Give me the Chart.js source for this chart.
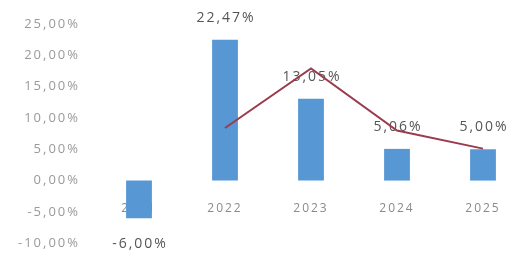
<!DOCTYPE html>
<html>
<head>
<meta charset="utf-8">
<script src="https://cdn.jsdelivr.net/npm/chart.js@4"></script>
<style>
  html, body { margin: 0; padding: 0; background: #fff; overflow: hidden; }
  #wrap { width: 540px; height: 267px; }
</style>
</head>
<body>
<div id="wrap"><canvas id="chart"></canvas></div>
<script>
// 数据
const years = ['2021', '2022', '2023', '2024', '2025'];
const barValues = [-6.00, 22.47, 13.05, 5.06, 5.00];
const lineValues = [null, 8.4, 17.9, 8.0, 5.1];

// 百分比格式（逗号小数）
function fmtPct(v) {
    return v.toFixed(2).replace('.', ',') + '%';
}

// 数值标签 + 字间距
const valueLabels = {
    id: 'valueLabels',
    beforeDraw(chart) {
        chart.ctx.letterSpacing = '2px';
    },
    beforeDatasetsDraw(chart) {
        const ctx = chart.ctx;
        const meta = chart.getDatasetMeta(1);
        ctx.save();
        ctx.font = '14px "Open Sans"';
        ctx.fillStyle = '#555';
        ctx.textAlign = 'center';
        ctx.textBaseline = 'middle';
        meta.data.forEach((el, i) => {
            const v = barValues[i];
            const y = v >= 0 ? el.y - 22 : el.y + 26;
            ctx.fillText(fmtPct(v), el.x + 1, y);
        });
        ctx.restore();
    }
};

new Chart(document.getElementById('chart'), {
    type: 'bar',
    data: {
        labels: years,
        datasets: [{
            type: 'line',
            data: lineValues,
            borderColor: '#9a3b4e',
            borderWidth: 2,
            pointRadius: 0,
            tension: 0,
            order: 0
        }, {
            data: barValues,
            backgroundColor: '#5797d3',
            barPercentage: 0.3,
            categoryPercentage: 1,
            clip: false,
            order: 1
        }]
    },
    options: {
        responsive: true,
        maintainAspectRatio: false,
        animation: false,
        layout: { padding: { top: 24, right: 14, left: 0, bottom: 12 } },
        plugins: { legend: { display: false }, tooltip: { enabled: false } },
        scales: {
            x: {
                position: { y: 0 },
                grid: { display: false, drawTicks: false },
                border: { display: false },
                ticks: { color: '#8a8a8a', padding: 21, font: { family: 'Open Sans', size: 12 } }
            },
            y: {
                min: -10,
                max: 25,
                afterFit(scale) { scale.width = 96; },
                grid: { display: false, drawTicks: false },
                border: { display: false },
                ticks: {
                    stepSize: 5,
                    color: '#9a9a9a',
                    padding: 16,
                    font: { family: 'Open Sans', size: 13 },
                    callback: v => fmtPct(v)
                }
            }
        }
    },
    plugins: [valueLabels]
});
</script>
</body>
</html>
